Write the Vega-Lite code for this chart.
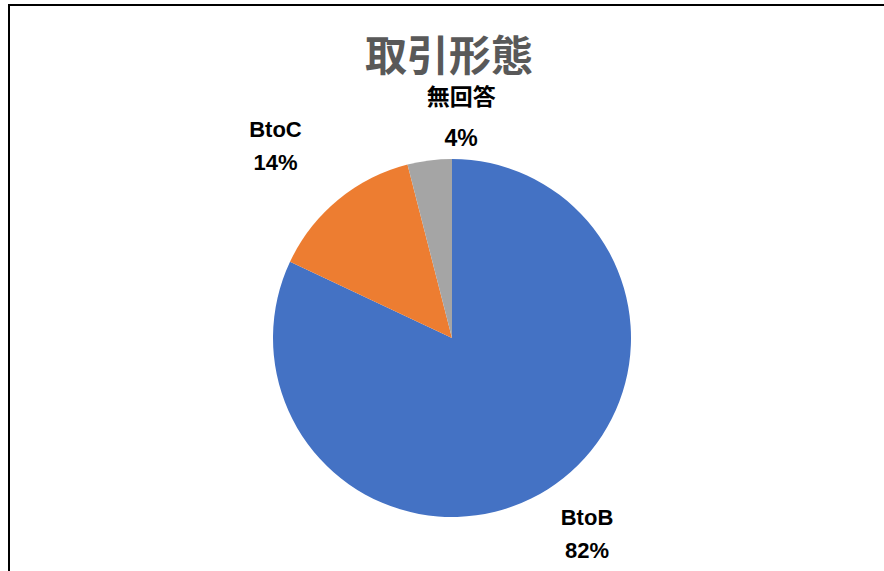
{
  "$schema": "https://vega.github.io/schema/vega-lite/v6.json",
  "width": 886,
  "height": 666,
  "padding": {"left": 9, "top": 5, "right": 0, "bottom": 0},
  "background": "white",
  "view": {"stroke": "#000000", "strokeWidth": 2, "fill": "white"},
  "config": {
    "view": {"stroke": "#000000", "strokeWidth": 2},
    "font": "Liberation Sans"
  },
  "title": {
    "text": "取引形態",
    "font": "Noto Sans CJK JP",
    "fontSize": 42,
    "fontWeight": "bold",
    "color": "#595959",
    "anchor": "middle",
    "frame": "group",
    "offset": -75,
    "dx": -3
  },
  "data": {
    "values": [
      {"category": "BtoB", "value": 82, "label": ["BtoB", "82%"]},
      {"category": "BtoC", "value": 14, "label": ["BtoC", "14%"]},
      {"category": "無回答", "value": 4, "label": ["無回答", "4%"]}
    ]
  },
  "encoding": {
    "theta": {"field": "value", "type": "quantitative", "stack": true},
    "order": {"field": "value", "type": "quantitative", "sort": "descending"}
  },
  "layer": [
    {
      "mark": {"type": "arc", "outerRadius": 179, "strokeWidth": 0},
      "encoding": {
        "color": {
          "field": "category",
          "type": "nominal",
          "scale": {"domain": ["BtoB", "BtoC", "無回答"], "range": ["#4472C4", "#ED7D31", "#A5A5A5"]},
          "legend": null
        }
      }
    },
    {
      "mark": {"type": "text", "radius": 237, "dx": 8, "dy": -20, "font": "Liberation Sans", "fontSize": 22, "fontWeight": "bold", "color": "#000000", "lineHeight": 33, "align": "center", "baseline": "middle"},
      "encoding": {"text": {"condition": {"test": "datum.category === 'BtoB'", "field": "label"}, "value": ""}}
    },
    {
      "mark": {"type": "text", "radius": 255, "dx": -14, "dy": -12, "font": "Liberation Sans", "fontSize": 22, "fontWeight": "bold", "color": "#000000", "lineHeight": 33, "align": "center", "baseline": "middle"},
      "encoding": {"text": {"condition": {"test": "datum.category === 'BtoC'", "field": "label"}, "value": ""}}
    },
    {
      "mark": {"type": "text", "radius": 222, "dx": 37, "dy": -20, "font": "Liberation Sans, Noto Sans CJK JP", "fontSize": 23, "fontWeight": "bold", "color": "#000000", "lineHeight": 41, "align": "center", "baseline": "middle"},
      "encoding": {"text": {"condition": {"test": "datum.category === '無回答'", "field": "label"}, "value": ""}}
    }
  ]
}
